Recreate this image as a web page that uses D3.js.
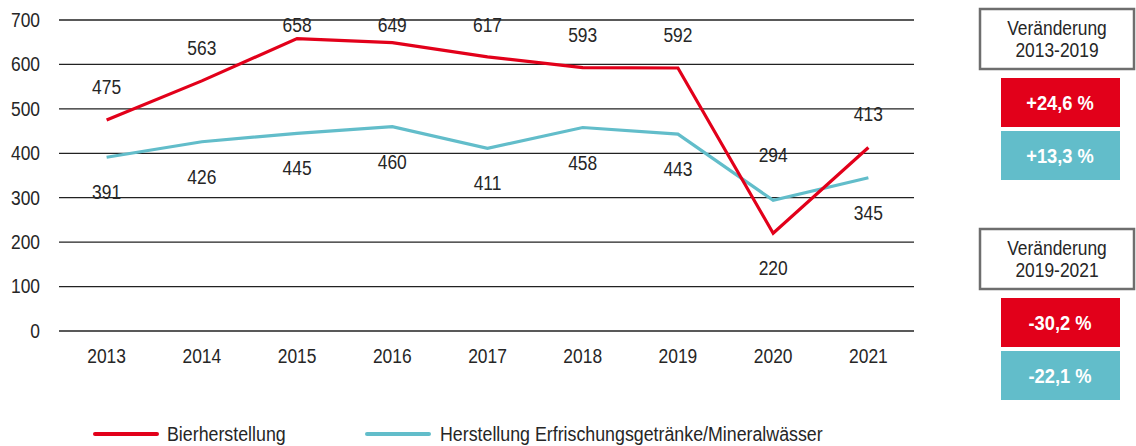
<!DOCTYPE html>
<html>
<head>
<meta charset="utf-8">
<script src="https://cdn.jsdelivr.net/npm/d3@7"></script>
<style>
  body { margin: 0; background: #fff; }
  svg text {
    font-family: "Liberation Sans", Arial, sans-serif;
    fill: #262626;
    transform-box: fill-box;
    transform-origin: center;
    transform: scaleX(0.87);
  }
  svg .left text { transform-origin: left center; transform: scaleX(0.89); }
  svg .right text { transform-origin: right center; }
</style>
</head>
<body>
<svg width="1136" height="446"></svg>
<script>
var years = ["2013", "2014", "2015", "2016", "2017", "2018", "2019", "2020", "2021"];
var beer = [475, 563, 658, 649, 617, 593, 592, 220, 413];
var softDrinks = [391, 426, 445, 460, 411, 458, 443, 294, 345];
var yTicks = [0, 100, 200, 300, 400, 500, 600, 700];
var seriesNames = ["Bierherstellung", "Herstellung Erfrischungsgetränke/Mineralwässer"];
var periods = [["2013", "2019"], ["2019", "2021"]];

var RED = "#e2001a", CYAN = "#62bdca";

var svg = d3.select("svg");

var x = d3.scaleBand().domain(years).range([59, 916]);
var y = d3.scaleLinear().domain([0, 700]).range([331, 20]);
var cx = function(d, i) { return x(years[i]) + x.bandwidth() / 2; };

// gridlines
svg.append("g")
    .selectAll("line")
    .data(yTicks)
    .enter().append("line")
        .attr("x1", 59).attr("x2", 914)
        .attr("y1", function(d) { return y(d); })
        .attr("y2", function(d) { return y(d); })
        .attr("stroke", "#222")
        .attr("stroke-width", 1.3);

// y axis labels
var yAxis = svg.append("g")
    .attr("class", "right")
    .attr("transform", "translate(59,0)")
    .call(d3.axisLeft(y).tickValues(yTicks).tickSize(0).tickPadding(19));
yAxis.select(".domain").remove();
yAxis.selectAll("text").attr("font-size", 20).style("font-family", null);

// x axis labels
var xAxis = svg.append("g")
    .attr("transform", "translate(0,331)")
    .call(d3.axisBottom(x).tickSize(0).tickPadding(18));
xAxis.select(".domain").remove();
xAxis.selectAll("text").attr("font-size", 20).style("font-family", null);

var line = d3.line().x(cx).y(function(d) { return y(d); });

svg.append("path").datum(softDrinks)
    .attr("d", line).attr("fill", "none")
    .attr("stroke", CYAN).attr("stroke-width", 3.2);

svg.append("path").datum(beer)
    .attr("d", line).attr("fill", "none")
    .attr("stroke", RED).attr("stroke-width", 3.2);

// data labels: higher series above, lower series below
var labelY = function(v, other) {
    if (v >= other) return Math.max(y(v) - 33, 25);
    return y(v) + 35;
};

svg.append("g").selectAll("text")
    .data(beer)
    .enter().append("text")
        .attr("x", cx)
        .attr("y", function(d, i) { return labelY(d, softDrinks[i]); })
        .attr("dy", "0.35em")
        .attr("text-anchor", "middle")
        .attr("font-size", 20)
        .text(function(d) { return d; });

svg.append("g").selectAll("text")
    .data(softDrinks)
    .enter().append("text")
        .attr("x", cx)
        .attr("y", function(d, i) { return d > beer[i] ? y(d) - 45 : labelY(d, beer[i]); })
        .attr("dy", "0.35em")
        .attr("text-anchor", "middle")
        .attr("font-size", 20)
        .text(function(d) { return d; });

// legend
var legend = svg.append("g").attr("class", "left").attr("transform", "translate(0,434)");
[[95, 167, RED], [367, 440, CYAN]].forEach(function(p, i) {
    legend.append("line")
        .attr("x1", p[0]).attr("x2", p[0] + 62)
        .attr("stroke", p[2]).attr("stroke-width", 4)
        .attr("stroke-linecap", "round");
    legend.append("text")
        .attr("x", p[1]).attr("dy", "0.35em")
        .attr("font-size", 20)
        .text(seriesNames[i]);
});

// change boxes
var fmt = function(v) {
    var s = d3.format("+.1f")(v).replace("\u2212", "-").replace(".", ",");
    return s + " %";
};
var pct = function(arr, a, b) {
    return (arr[years.indexOf(b)] / arr[years.indexOf(a)] - 1) * 100;
};

periods.forEach(function(p, i) {
    var g = svg.append("g").attr("transform", "translate(0," + (i * 220) + ")");
    g.append("rect")
        .attr("x", 980).attr("y", 9).attr("width", 154).attr("height", 60)
        .attr("fill", "#fff").attr("stroke", "#6e6e6e").attr("stroke-width", 2.5);
    g.append("text")
        .attr("x", 1057).attr("y", 28).attr("dy", "0.35em")
        .attr("text-anchor", "middle").attr("font-size", 20)
        .text("Veränderung");
    g.append("text")
        .attr("x", 1057).attr("y", 50).attr("dy", "0.35em")
        .attr("text-anchor", "middle").attr("font-size", 20)
        .text(p[0] + "-" + p[1]);

    [[beer, RED, 78], [softDrinks, CYAN, 131]].forEach(function(s) {
        g.append("rect")
            .attr("x", 1001).attr("y", s[2]).attr("width", 119).attr("height", 49)
            .attr("fill", s[1]);
        g.append("text")
            .attr("x", 1060).attr("y", s[2] + 25).attr("dy", "0.35em")
            .attr("text-anchor", "middle").attr("font-size", 21)
            .attr("font-weight", "bold")
            .style("fill", "#fff")
            .text(fmt(pct(s[0], p[0], p[1])));
    });
});
</script>
</body>
</html>
